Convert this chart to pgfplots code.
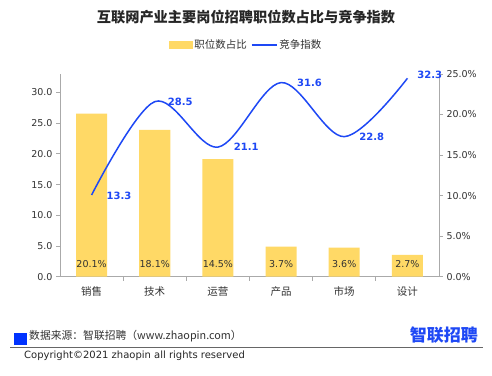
\documentclass[border=0pt]{standalone}
\usepackage{fontspec}
\setmainfont{DejaVu Sans}
\newfontfamily\cjk{Noto Sans CJK SC}
\usepackage{pgfplots}
\usepackage{pgfplotstable}
\pgfplotsset{compat=1.18}
\definecolor{barcol}{RGB}{255,217,102}
\definecolor{lineblue}{RGB}{30,72,245}
\definecolor{axgray}{RGB}{170,170,170}
\definecolor{txt}{RGB}{50,50,50}
\definecolor{sqblue}{RGB}{0,51,255}

\pgfplotstableread{
x y lab dx dy
0 13.3 13.3 11 -1
1 28.5 28.5 9 0
2 21.1 21.1 12 0
3 31.6 31.6 12 0
4 22.8 22.8 11 0
5 32.3 32.3 6 3
}\linedata

\pgfplotstableread{
x y
0 20.1
1 18.1
2 14.5
3 3.7
4 3.6
5 2.7
}\bardata

\begin{document}
\begin{tikzpicture}
\path[fill=white] (0pt,0pt) rectangle (492pt,375pt);
% title
\node[font=\cjk\bfseries\fontsize{14.2}{17}\selectfont, text=black!85] at (246pt,358pt) {互联网产业主要岗位招聘职位数占比与竞争指数};

\begin{axis}[
  at={(60pt,98.3pt)}, anchor=south west,
  scale only axis, width=379pt, height=202.7pt,
  xmin=-0.5, xmax=5.5, ymin=0, ymax=25,
  axis y line*=right, axis x line*=bottom,
  axis line style={axgray, line width=0.8pt},
  xtick={0,...,5},
  xticklabels={\cjk 销售,\cjk 技术,\cjk 运营,\cjk 产品,\cjk 市场,\cjk 设计},
  major x tick style={draw=none},
  minor xtick={0.5,1.5,2.5,3.5,4.5},
  minor x tick style={axgray, line width=0.8pt},
  minor tick length=4pt,
  ytick={0,5,...,25},
  yticklabel={\pgfmathprintnumber[fixed,fixed zerofill,precision=1]{\tick}\%},
  ytick style={axgray, line width=0.8pt},
  major tick length=4pt,
  tick align=outside,
  /pgf/number format/assume math mode=true,
  ticklabel style={font=\fontsize{9.5}{11}\selectfont, text=txt},
  xticklabel style={font=\cjk\fontsize{10.5}{12}\selectfont, text=txt, yshift=-2pt},
  clip=false,
]
\addplot[ybar, bar width=31pt, bar shift=0pt, fill=barcol, draw=none] table[x=x,y=y] {\bardata};
\addplot[draw=none, nodes near coords, point meta=explicit symbolic,
  every node near coord/.append style={anchor=center, font=\fontsize{9.5}{11}\selectfont, text=txt}]
  coordinates {(0,1.6)[20.1\%] (1,1.6)[18.1\%] (2,1.6)[14.5\%] (3,1.6)[3.7\%] (4,1.6)[3.6\%] (5,1.6)[2.7\%]};
\end{axis}

\begin{axis}[
  at={(60pt,98.3pt)}, anchor=south west,
  scale only axis, width=379pt, height=202.7pt,
  xmin=-0.5, xmax=5.5, ymin=0, ymax=33,
  axis y line*=left, axis x line=none,
  axis line style={axgray, line width=0.8pt},
  ytick={0,5,...,30},
  yticklabel style={/pgf/number format/.cd, fixed, fixed zerofill, precision=1},
  ytick style={axgray, line width=0.8pt},
  major tick length=4pt,
  tick align=outside,
  /pgf/number format/assume math mode=true,
  ticklabel style={font=\fontsize{9.5}{11}\selectfont, text=txt},
  clip=false,
  legend columns=2,
  legend style={draw=none, fill=none, at={(0.491,1.143)}, anchor=center,
    font=\cjk\fontsize{10.5}{12}\selectfont, text=txt,
    /tikz/every even column/.append style={column sep=2pt}},
  legend cell align=left,
]
\addlegendimage{legend image code/.code={\fill[barcol] (0pt,-3.5pt) rectangle (23pt,3.5pt);}}
\addlegendentry{职位数占比}
\addplot[smooth, tension=0.55, lineblue, line width=1.5pt,
  nodes near coords, point meta=explicit symbolic,
  visualization depends on={\thisrow{dx}\as\dx},
  visualization depends on={\thisrow{dy}\as\dy},
  every node near coord/.append style={anchor=west, xshift=\dx pt, yshift=\dy pt,
    font=\bfseries\fontsize{10}{12}\selectfont, text=lineblue},
  legend image code/.code={\draw[lineblue, line width=1.5pt] (0pt,0pt) -- (25pt,0pt);}]
  table[x=x, y=y, meta=lab] {\linedata};
\addlegendentry{竞争指数}
\end{axis}

% footer
\fill[sqblue] (14pt,30pt) rectangle (26.5pt,42pt);
\node[anchor=west, font=\cjk\fontsize{10.8}{12}\selectfont, text=black!80, inner sep=0pt] at (29pt,38.5pt) {数据来源：智联招聘（www.zhaopin.com）};
\node[anchor=east, font=\cjk\bfseries\fontsize{17}{19}\selectfont, text=lineblue, inner sep=0pt] at (478pt,40pt) {智联招聘};
\draw[gray!80!black, line width=1.2pt] (10pt,27.3pt) -- (483pt,27.3pt);
\node[anchor=west, font=\fontsize{10}{12}\selectfont, text=black!85, inner sep=0pt] at (24pt,19.5pt) {Copyright©2021 zhaopin all rights reserved};
\end{tikzpicture}
\end{document}
